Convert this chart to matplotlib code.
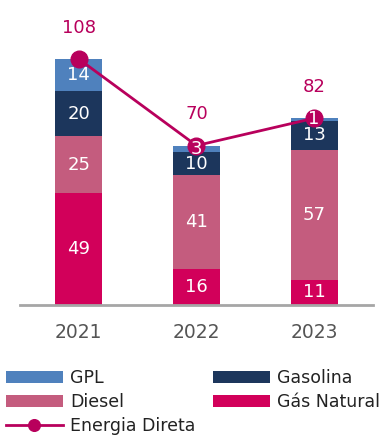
import matplotlib.pyplot as plt
import numpy as np

# Dados por ano (GJ, milhares)
anos = ['2021', '2022', '2023']
gas_natural = [49, 16, 11]
diesel = [25, 41, 57]
gasolina = [20, 10, 13]
gpl = [14, 3, 1]
energia_direta = [108, 70, 82]

cores = {
    'Gás Natural': '#d2005a',
    'Diesel': '#c45c7e',
    'Gasolina': '#1c365c',
    'GPL': '#4f81bd',
}
cor_linha = '#b8005c'

plt.rcParams['font.family'] = ['DejaVu Sans']

fig = plt.figure(figsize=(3.87, 4.36), dpi=100)
ax = fig.add_axes([0.0517, 0.3005, 0.912, 0.679])

x = np.arange(len(anos))
largura = 0.4

# Barras empilhadas
series = [('Gás Natural', gas_natural), ('Diesel', diesel),
          ('Gasolina', gasolina), ('GPL', gpl)]
base = np.zeros(len(anos))
barras = {}
for nome, valores in series:
    valores = np.array(valores, dtype=float)
    barras[nome] = ax.bar(x, valores, largura, bottom=base, color=cores[nome],
                          edgecolor='none', label=nome, zorder=2)
    base += valores

# Linha do total
linha, = ax.plot(x, energia_direta, color=cor_linha, lw=2, marker='o',
                 markersize=12, zorder=3, label='Energia Direta')

# Valores dentro das barras
base = np.zeros(len(anos))
for nome, valores in series:
    for i, v in enumerate(valores):
        ax.text(x[i], base[i] + v / 2, str(v), ha='center', va='center',
                color='white', fontsize=13, zorder=4)
    base += np.array(valores)

# Totais acima da linha
for i, v in enumerate(energia_direta):
    ax.annotate(str(v), (x[i], v), xytext=(0, 22.5), textcoords='offset points',
                ha='center', va='center', color=cor_linha, fontsize=13,
                annotation_clip=False)

ax.set_xlim(-0.5, 2.5)
ax.set_ylim(0, 130)
ax.set_xticks(x)
ax.set_xticklabels(anos, fontsize=13.5, color='#555555')
ax.tick_params(axis='x', length=0, pad=13)
ax.set_yticks([])
for lado in ['top', 'right', 'left']:
    ax.spines[lado].set_visible(False)
ax.spines['bottom'].set_color('#a6a6a6')
ax.spines['bottom'].set_linewidth(2)

handles = [barras['GPL'], barras['Diesel'], linha,
           barras['Gasolina'], barras['Gás Natural']]
labels = ['GPL', 'Diesel', 'Energia Direta', 'Gasolina', 'Gás Natural']
fig.legend(handles, labels, ncol=2, loc='upper left',
           bbox_to_anchor=(0.015, 0.154), frameon=False, fontsize=12.5,
           handlelength=3.3, handleheight=0.7, handletextpad=0.4,
           columnspacing=1.0, labelspacing=0.36, borderpad=0, borderaxespad=0,
           markerscale=0.7, labelcolor='#222222')

fig.savefig('out.png', dpi=100)
